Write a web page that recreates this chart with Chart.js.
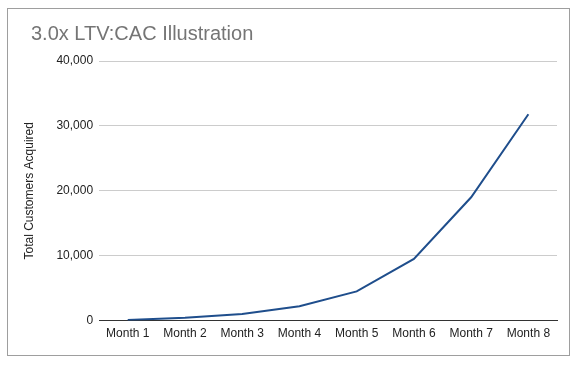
<!DOCTYPE html>
<html>
<head>
<meta charset="utf-8">
<script src="https://cdn.jsdelivr.net/npm/chart.js@4"></script>
<style>
  html, body { margin: 0; padding: 0; background: #fff; }
  #box {
    position: absolute; left: 7px; top: 8px;
    width: 561px; height: 346px;
    border: 1px solid #9e9e9e;
  }
</style>
</head>
<body>
<div id="box"><canvas id="myChart" width="561" height="346"></canvas></div>
<script>
// chart data
const months = ['Month 1', 'Month 2', 'Month 3', 'Month 4', 'Month 5', 'Month 6', 'Month 7', 'Month 8'];
const customers = [100, 450, 1000, 2200, 4500, 9500, 19000, 31800];
const yTicks = [0, 10000, 20000, 30000, 40000];

var ctx = document.getElementById('myChart').getContext('2d');

// eslint-disable-next-line no-unused-vars
var chart = new Chart(ctx, {
  type: 'line',
  data: {
    labels: months,
    datasets: [{
      label: 'Total Customers Acquired',
      data: customers,
      borderColor: '#1f4e8c',
      backgroundColor: '#1f4e8c',
      borderWidth: 2,
      pointRadius: 0,
      tension: 0,
    }]
  },
  options: {
    responsive: false,
    animation: false,
    // left padding pushes the title right; the y title gets it back with negative padding
    layout: { padding: { left: 23, right: 12, top: 0, bottom: 8 } },
    plugins: {
      legend: { display: false },
      tooltip: { enabled: false },
      title: {
        display: true,
        text: '3.0x LTV:CAC Illustration',
        align: 'start',
        color: '#757575',
        font: { family: 'Arial, "Liberation Sans"', size: 20, weight: 'normal' },
        padding: { top: 13, bottom: 15 },
      }
    },
    scales: {
      x: {
        offset: true,
        grid: { display: false, drawTicks: false },
        border: { color: '#333', width: 1 },
        ticks: {
          color: '#222',
          padding: 6,
          maxRotation: 0,
          font: { family: 'Arial, "Liberation Sans"', size: 12 },
        }
      },
      y: {
        min: 0,
        max: 40000,
        afterBuildTicks: (axis) => { axis.ticks = yTicks.map(v => ({ value: v })); },
        grid: { color: '#cccccc', drawTicks: false },
        border: { display: false },
        ticks: {
          color: '#222',
          padding: 6,
          font: { family: 'Arial, "Liberation Sans"', size: 12 },
          callback: (v) => v.toLocaleString('en-US'),
        },
        title: {
          display: true,
          text: 'Total Customers Acquired',
          color: '#222',
          font: { family: 'Arial, "Liberation Sans"', size: 12 },
          padding: { top: -9, bottom: 14 },
        }
      }
    }
  }
});
</script>
</body>
</html>
